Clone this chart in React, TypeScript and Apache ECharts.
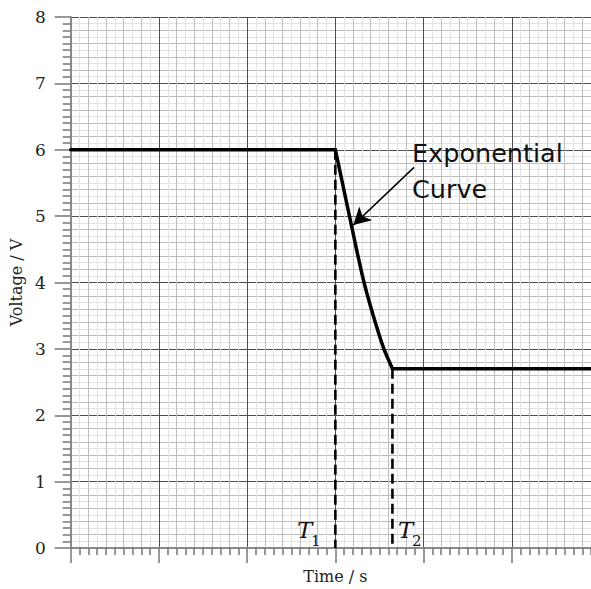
import React, { useEffect, useRef } from "react";
import * as echarts from "echarts";

// Data
const plateauHighTime = [0, 3.0];
const plateauHighVoltage = [6.0, 6.0];
const curveTime = [3.0, 3.08, 3.16, 3.24, 3.325, 3.43, 3.55, 3.647];
const curveVoltage = [6.0, 5.5, 5.0, 4.5, 4.0, 3.5, 3.0, 2.7];
const plateauLowTime = [3.647, 6.0];
const plateauLowVoltage = [2.7, 2.7];
const t1 = 3.0;
const t2 = 3.647;
const t1Voltage = 6.0;
const t2Voltage = 2.7;
const arrowFrom = [3.892, 5.735];
const arrowTo = [3.204, 4.865];
const yTickLabels = ["0", "1", "2", "3", "4", "5", "6", "7", "8"];

const SERIF = "'DejaVu Serif', 'Liberation Serif', serif";

const pairs = (xs: number[], ys: number[]) => xs.map((x, i) => [x, ys[i]]);

export default function App() {
  const ref = useRef<HTMLDivElement>(null);
  useEffect(() => {
    if (!ref.current) return;
    const chart = echarts.init(ref.current, undefined, { renderer: "svg" });
    const hiddenAxis = (extra: any) => ({
      type: "value",
      min: 0,
      axisLine: { show: false },
      axisTick: { show: false },
      axisLabel: { show: false },
      ...extra,
    });
    const solidLine = (data: number[][], smooth: number | boolean = false) => ({
      type: "line",
      xAxisIndex: 1,
      yAxisIndex: 1,
      data,
      symbol: "none",
      smooth,
      lineStyle: { color: "#000", width: 3.5, join: "round", cap: "round" },
      z: 4,
    });
    const dashedLine = (data: number[][]) => ({
      type: "line",
      xAxisIndex: 1,
      yAxisIndex: 1,
      data,
      symbol: "none",
      lineStyle: { color: "#000", width: 2.6, type: [10, 5] },
      z: 3,
    });
    const option: any = {
      animation: false,
      backgroundColor: "#ffffff",
      grid: { left: 68, right: 0, top: 17, bottom: 39, containLabel: false },
      xAxis: [
        hiddenAxis({
          position: "bottom",
          max: 6,
          interval: 0.2,
          splitLine: { show: true, lineStyle: { color: "#bdbdbd", width: 1 } },
          minorTick: { show: false, splitNumber: 2 },
          minorSplitLine: { show: true, lineStyle: { color: "#e3e3e3", width: 1 } },
        }),
        {
          type: "value",
          position: "bottom",
          min: 0,
          max: 6,
          interval: 1,
          name: "Time / s",
          nameLocation: "middle",
          nameGap: 20,
          nameTextStyle: { fontFamily: SERIF, fontSize: 16, color: "#222" },
          axisLine: { show: true, onZero: false, lineStyle: { color: "#8a8a8a", width: 2 } },
          axisTick: { show: true, length: 15, lineStyle: { color: "#777", width: 1.5 } },
          minorTick: { show: true, splitNumber: 10, length: 7, lineStyle: { color: "#777", width: 1.5 } },
          axisLabel: { show: false },
          splitLine: { show: true, lineStyle: { color: "#4f4f4f", width: 1 } },
        },
      ],
      yAxis: [
        hiddenAxis({
          position: "left",
          max: 8,
          interval: 0.2,
          splitLine: { show: true, lineStyle: { color: "#bdbdbd", width: 1 } },
          minorTick: { show: false, splitNumber: 2 },
          minorSplitLine: { show: true, lineStyle: { color: "#e3e3e3", width: 1 } },
        }),
        {
          type: "value",
          position: "left",
          min: 0,
          max: 8,
          interval: 1,
          name: "Voltage / V",
          nameLocation: "middle",
          nameGap: 43,
          nameTextStyle: { fontFamily: SERIF, fontSize: 16, color: "#222" },
          axisLine: { show: true, onZero: false, lineStyle: { color: "#8a8a8a", width: 2 } },
          axisTick: { show: true, length: 16, lineStyle: { color: "#777", width: 1.5 } },
          minorTick: { show: true, splitNumber: 10, length: 8, lineStyle: { color: "#777", width: 1.5 } },
          axisLabel: {
            show: true,
            margin: 25,
            fontFamily: SERIF,
            fontSize: 17,
            color: "#222",
            formatter: (v: number) => yTickLabels[Math.round(v)] ?? "",
          },
          splitLine: { show: true, lineStyle: { color: "#4f4f4f", width: 1 } },
        },
      ],
      series: [
        dashedLine([
          [t1, t1Voltage],
          [t1, 0],
        ]),
        dashedLine([
          [t2, t2Voltage],
          [t2, 0],
        ]),
        solidLine(pairs(plateauHighTime, plateauHighVoltage)),
        solidLine(pairs(plateauLowTime, plateauLowVoltage)),
        {
          ...solidLine(pairs(curveTime, curveVoltage), 0.15),
          markLine: {
            silent: true,
            animation: false,
            symbol: ["none", "arrow"],
            symbolSize: [14, 17],
            label: { show: false },
            lineStyle: { color: "#000", width: 1.5, type: "solid" },
            data: [[{ coord: arrowFrom }, { coord: arrowTo }]],
          },
        },
      ],
      graphic: [
        {
          type: "text",
          left: 412,
          top: 135,
          style: {
            text: "Exponential\nCurve",
            fontFamily: "'DejaVu Sans', Verdana, sans-serif",
            fontSize: 25.5,
            lineHeight: 36,
            fill: "#111",
          },
          z: 10,
        },
        {
          type: "text",
          left: 297,
          top: 518,
          style: { text: "T", fontFamily: SERIF, fontStyle: "italic", fontSize: 23, fill: "#111" },
          z: 10,
        },
        {
          type: "text",
          left: 311,
          top: 533,
          style: { text: "1", fontFamily: SERIF, fontSize: 15, fill: "#111" },
          z: 10,
        },
        {
          type: "text",
          left: 398,
          top: 518,
          style: { text: "T", fontFamily: SERIF, fontStyle: "italic", fontSize: 23, fill: "#111" },
          z: 10,
        },
        {
          type: "text",
          left: 412,
          top: 533,
          style: { text: "2", fontFamily: SERIF, fontSize: 15, fill: "#111" },
          z: 10,
        },
      ],
    };
    chart.setOption(option);
    return () => chart.dispose();
  }, []);
  return (
    <div
      ref={ref}
      style={{ position: "fixed", left: 0, top: 0, width: 600, height: 589, background: "#fff" }}
    />
  );
}
